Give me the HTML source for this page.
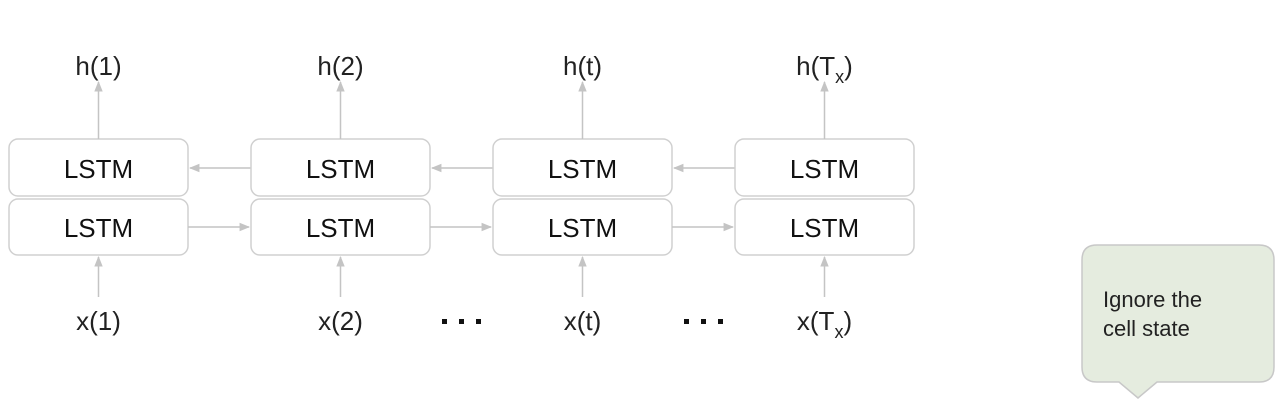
<!DOCTYPE html>
<html><head><meta charset="utf-8"><style>
html,body{margin:0;padding:0;background:#fff;}
svg{display:block;font-family:"Liberation Sans",Arial,sans-serif;}
</style></head><body>
<svg width="1280" height="408" viewBox="0 0 1280 408">
<defs>
<marker id="ah" viewBox="0 0 10 10" refX="9" refY="5" markerWidth="7" markerHeight="7" orient="auto"><path d="M0,1 L10,5 L0,9 z" fill="#c4c4c4"/></marker>
</defs>
<g id="cols"></g>
<g fill="#111">
<rect x="442" y="319" width="5" height="5"/><rect x="459" y="319" width="5" height="5"/><rect x="476" y="319" width="5" height="5"/>
</g>
<g fill="#111">
<rect x="684" y="319" width="5" height="5"/><rect x="701" y="319" width="5" height="5"/><rect x="718" y="319" width="5" height="5"/>
</g>
<g>
<path d="M1097,245 H1259 Q1274,245 1274,260 V367 Q1274,382 1259,382 H1157 L1138,398 L1119,382 H1097 Q1082,382 1082,367 V260 Q1082,245 1097,245 Z" fill="#e5ecdf" stroke="#c8c8c8" stroke-width="1.5"/>
<text x="1103" y="307" font-size="22" fill="#222">Ignore the</text>
<text x="1103" y="336" font-size="22" fill="#222">cell state</text>
</g>
</svg>
<script>
const outputs=['h(1)','h(2)','h(t)','h(T)'];
const inputs=['x(1)','x(2)','x(t)','x(T)'];
const ns='http://www.w3.org/2000/svg';
const g=document.getElementById('cols');
function mk(tag,attrs,parent){const e=document.createElementNS(ns,tag);for(const k in attrs)e.setAttribute(k,attrs[k]);(parent||g).appendChild(e);return e;}
function label(txt,cx,y,sub){
  const t=mk('text',{x:cx,y:y,'font-size':26,'text-anchor':'middle',fill:'#222'});
  if(sub){
    const base=txt.slice(0,-1);
    t.appendChild(document.createTextNode(base));
    const s=document.createElementNS(ns,'tspan');s.setAttribute('font-size','18');s.setAttribute('dy','8');s.textContent='x';t.appendChild(s);
    const c=document.createElementNS(ns,'tspan');c.setAttribute('dy','-8');c.textContent=')';t.appendChild(c);
  } else t.textContent=txt;
  return t;
}
for(let i=0;i<4;i++){
  const x0=9+i*242, cx=x0+89.5;
  const top=mk('rect',{x:x0,y:139,width:179,height:57,rx:9,fill:'#fff',stroke:'#d0d0d0','stroke-width':1.5});
  
  
  const bot=mk('rect',{x:x0,y:199,width:179,height:56,rx:9,fill:'#fff',stroke:'#d0d0d0','stroke-width':1.5});
  
  
  const t1=mk('text',{x:cx,y:178,'font-size':26,'text-anchor':'middle',fill:'#111'});t1.textContent='LSTM';
  
  
  const t2=mk('text',{x:cx,y:237,'font-size':26,'text-anchor':'middle',fill:'#111'});t2.textContent='LSTM';
  
  
  const au=mk('line',{x1:cx,y1:139,x2:cx,y2:82,stroke:'#c4c4c4','stroke-width':1.5,'marker-end':'url(#ah)'});
  
  
  const ai=mk('line',{x1:cx,y1:297,x2:cx,y2:257,stroke:'#c4c4c4','stroke-width':1.5,'marker-end':'url(#ah)'});
  
  
  const ho=label(outputs[i],cx,75,i===3);
  
  
  const xi=label(inputs[i],cx,330,i===3);
  
  
  if(i<3){
    const b=mk('line',{x1:x0+242,y1:168,x2:x0+181,y2:168,stroke:'#c4c4c4','stroke-width':1.5,'marker-end':'url(#ah)'});
    
    
    const f=mk('line',{x1:x0+179,y1:227,x2:x0+240,y2:227,stroke:'#c4c4c4','stroke-width':1.5,'marker-end':'url(#ah)'});
    
    
  }
}
</script>
</body></html>
